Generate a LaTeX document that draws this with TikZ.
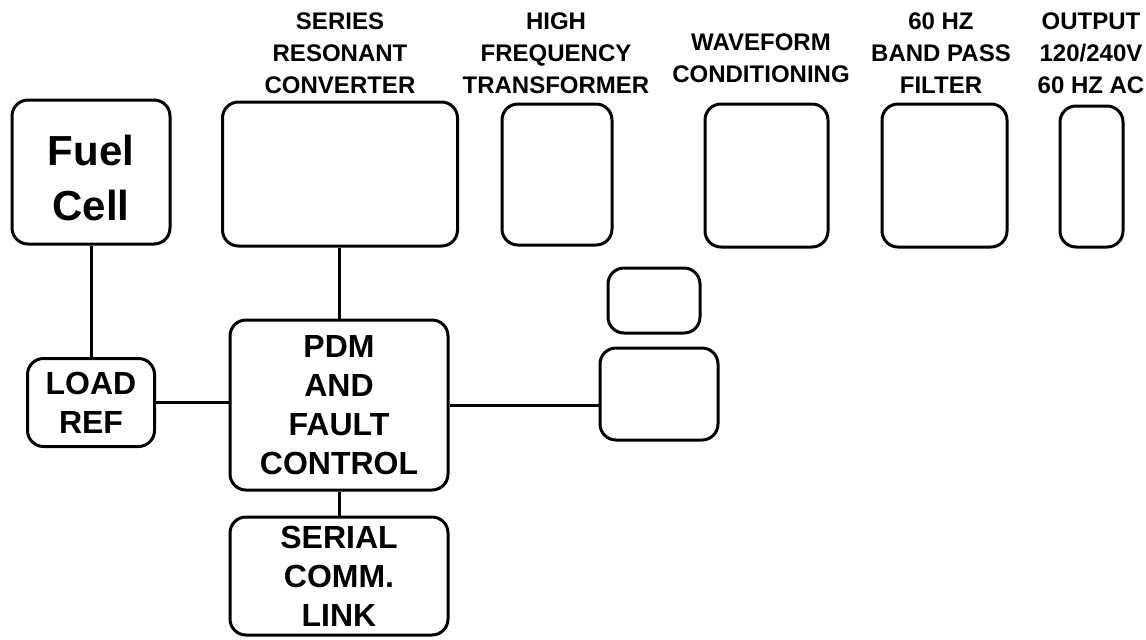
\documentclass[tikz,border=0pt]{standalone}
\usepackage{fontspec}
\setmainfont{Liberation Sans}
\usetikzlibrary{positioning}

\begin{document}
\begin{tikzpicture}[x=0.5pt,y=-0.5pt,
blk/.style={draw,line width=1.5pt,rounded corners=8pt,inner sep=0pt,align=center,
 font=\bfseries\fontsize{16}{19.5}\selectfont},
lbl/.style={inner sep=0pt,align=center,font=\bfseries\fontsize{12}{16}\selectfont},
wire/.style={line width=1.5pt}]
\useasboundingbox (0,0) rectangle (1146,639);

% upper row
\node[blk,minimum width=79pt,minimum height=72pt] (fuel) at (91,172) {};
\node[align=center,inner sep=0pt,font=\bfseries\fontsize{21}{27.5}\selectfont] (fueltxt) at ([yshift=-3pt]fuel.center) {Fuel\\Cell};
\node[blk,minimum width=117.5pt,minimum height=72pt] (src) at (340,174) {};
\node[blk,minimum width=55pt,minimum height=70.5pt] (hft) at (557,174.5) {};
\node[blk,minimum width=61.5pt,minimum height=71.5pt] (wfc) at (766.5,175.5) {};
\node[blk,minimum width=62.5pt,minimum height=71.5pt] (bpf) at (944.5,175.5) {};
\node[blk,minimum width=31.5pt,minimum height=70.5pt] (out) at (1091.5,176.5) {};

\node[lbl] at (340,53) {SERIES\\RESONANT\\CONVERTER};
\node[lbl] at (556,53.5) {HIGH\\FREQUENCY\\TRANSFORMER};
\node[lbl] at (761,58.5) {WAVEFORM\\CONDITIONING};
\node[lbl] at (941,53) {60 HZ\\BAND PASS\\FILTER};
\node[lbl] at (1091,53) {OUTPUT\\120/240V\\60 HZ AC};

% lower part
\node[blk,minimum width=63.5pt,minimum height=44pt] (load) at (91,402.5) {LOAD\\REF};
\node[blk,minimum width=109pt,minimum height=85pt] (pdm) at (339,405) {PDM\\AND\\FAULT\\CONTROL};
\node[blk,minimum width=109pt,minimum height=59pt] (ser) at (339,576) {SERIAL\\COMM.\\LINK};
\node[blk,minimum width=46pt,minimum height=32.5pt] (sm) at (654,300.5) {};
\node[blk,minimum width=59pt,minimum height=46pt] (rt) at (659,394) {};

\draw[wire] (load.north) -- (load.north |- fuel.south);
\draw[wire] (pdm.north) -- (pdm.north |- src.south);
\draw[wire] (pdm.south) -- (ser.north);
\draw[wire] (load.east) -- (load.east -| pdm.west);
\draw[wire] (pdm.east) -- (pdm.east -| rt.west);
\end{tikzpicture}
\end{document}
